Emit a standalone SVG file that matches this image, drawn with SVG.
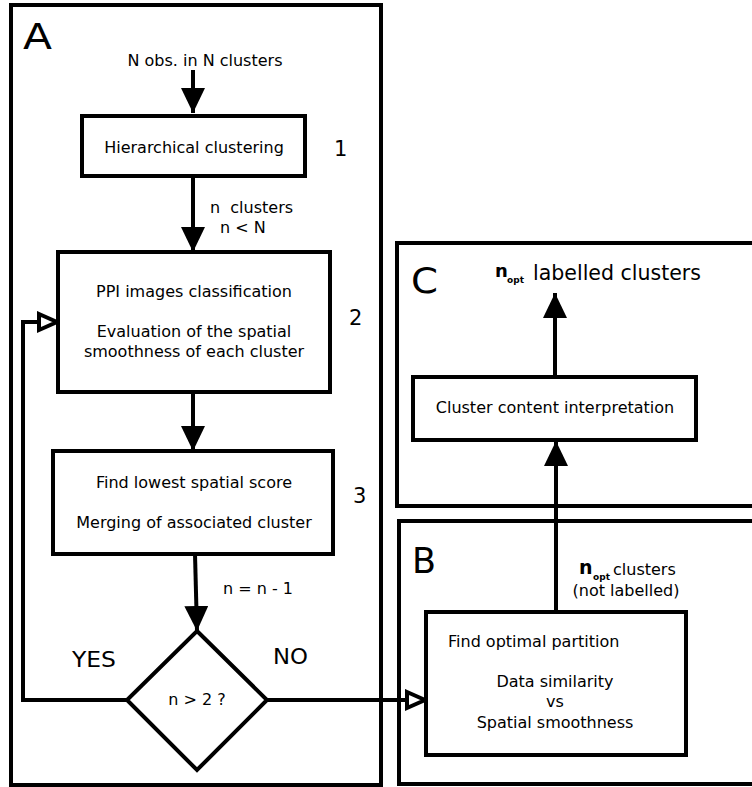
<svg xmlns="http://www.w3.org/2000/svg" width="752" height="787" viewBox="0 0 752 787">
<style>
.frame{fill:none;stroke:#000;stroke-width:4}
.box{fill:#fff;stroke:#000;stroke-width:4}
.line{fill:none;stroke:#000;stroke-width:4}
text{font-family:"DejaVu Sans","Liberation Sans",sans-serif;fill:#000}
.t{font-size:16px;text-anchor:middle}
.big{font-size:35px}
.num{font-size:21px}
.lbl{font-size:16px}
.yn{font-size:21px}
</style>
<defs>
<marker id="solid" markerUnits="userSpaceOnUse" markerWidth="26" markerHeight="26" refX="25" refY="12" orient="auto">
<path d="M0,0 L25,12 L0,24 Z" fill="#000"/>
</marker>
<marker id="open" markerUnits="userSpaceOnUse" markerWidth="26" markerHeight="26" refX="21" refY="11" orient="auto">
<path d="M2,3 L20,11 L2,19 Z" fill="#fff" stroke="#000" stroke-width="4"/>
</marker>
</defs>
<g id="panelA">
<rect class="frame" x="11" y="5" width="370" height="780"/>
<text class="big" x="23" y="49" textLength="29" lengthAdjust="spacingAndGlyphs">A</text>
</g>
<g id="panelC">
<rect class="frame" x="397" y="243" width="370" height="263"/>
<text class="big" x="411" y="293" textLength="27" lengthAdjust="spacingAndGlyphs">C</text>
</g>
<g id="panelB">
<rect class="frame" x="399" y="521" width="370" height="263"/>
<text class="big" x="412" y="573">B</text>
</g>
<g id="connectors">
<line class="line" x1="193" y1="70" x2="193" y2="113" marker-end="url(#solid)"/>
<line class="line" x1="193" y1="176" x2="193" y2="252" marker-end="url(#solid)"/>
<line class="line" x1="193" y1="392" x2="193" y2="451" marker-end="url(#solid)"/>
<line class="line" x1="195" y1="554" x2="197" y2="631" marker-end="url(#solid)"/>
<polyline class="line" points="127,700 23,700 23,322 58,322" marker-end="url(#open)"/>
<line class="line" x1="267" y1="700" x2="426" y2="700" marker-end="url(#open)"/>
<line class="line" x1="556" y1="612" x2="556" y2="441" marker-end="url(#solid)"/>
<line class="line" x1="555" y1="377" x2="555" y2="293" marker-end="url(#solid)"/>
</g>
<g id="start">
<text class="t" x="205" y="66">N obs. in N clusters</text>
</g>
<g id="step1">
<rect class="box" x="82" y="116" width="223" height="60"/>
<text class="t" x="194" y="153">Hierarchical clustering</text>
<text class="num" x="334" y="156">1</text>
</g>
<g id="label-n">
<text class="lbl" x="210" y="213">n&#160; clusters</text>
<text class="lbl" x="220" y="233">n &lt; N</text>
</g>
<g id="step2">
<rect class="box" x="58" y="252" width="272" height="140"/>
<text class="t" x="194" y="297">PPI images classification</text>
<text class="t" x="194" y="337">Evaluation of the spatial</text>
<text class="t" x="194" y="357">smoothness of each cluster</text>
<text class="num" x="349" y="325">2</text>
</g>
<g id="step3">
<rect class="box" x="53" y="451" width="280" height="103"/>
<text class="t" x="194" y="488">Find lowest spatial score</text>
<text class="t" x="194" y="528">Merging of associated cluster</text>
<text class="num" x="353" y="503">3</text>
</g>
<g id="label-dec">
<text class="lbl" x="223" y="594">n = n - 1</text>
</g>
<g id="decision">
<polygon class="box" points="197,631 267,700 197,770 127,700"/>
<text class="t" x="197" y="705">n &gt; 2 ?</text>
<text class="yn" x="72" y="667" textLength="44" lengthAdjust="spacingAndGlyphs">YES</text>
<text class="yn" x="273" y="664" textLength="35" lengthAdjust="spacingAndGlyphs">NO</text>
</g>
<g id="optimal">
<rect class="box" x="426" y="612" width="260" height="143"/>
<text class="lbl" x="448" y="647">Find optimal partition</text>
<text class="t" x="555" y="687">Data similarity</text>
<text class="t" x="555" y="707">vs</text>
<text class="t" x="555" y="728">Spatial smoothness</text>
</g>
<g id="label-nopt">
<text x="579" y="574" font-weight="bold" font-size="19px">n</text>
<text x="593" y="580" font-weight="bold" font-size="9px">opt</text>
<text class="lbl" x="613" y="575">clusters</text>
<text class="t" x="626" y="596">(not labelled)</text>
</g>
<g id="interp">
<rect class="box" x="413" y="377" width="283" height="63"/>
<text class="t" x="555" y="413">Cluster content interpretation</text>
</g>
<g id="output">
<text x="495" y="277" font-weight="bold" font-size="18px">n</text>
<text x="507" y="283" font-weight="bold" font-size="9px">opt</text>
<text x="533" y="280" font-size="22px" textLength="168" lengthAdjust="spacingAndGlyphs">labelled clusters</text>
</g>
</svg>
